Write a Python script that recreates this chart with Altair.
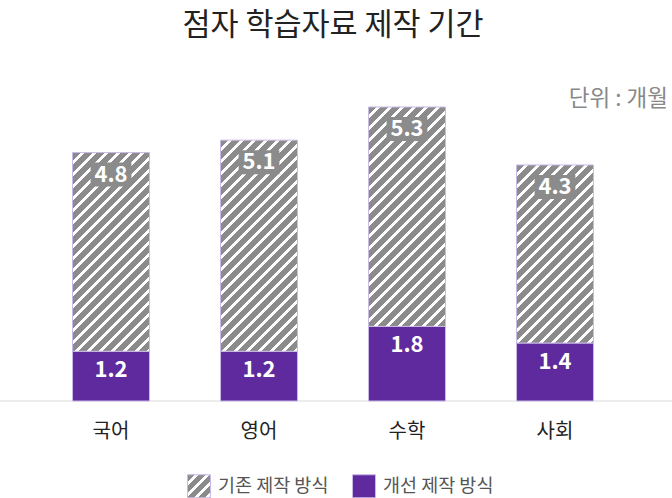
import altair as alt
import pandas as pd

# ---------------- data ----------------
subjects = ["국어", "영어", "수학", "사회"]
old_values = [4.8, 5.1, 5.3, 4.3]     # 기존 제작 방식 (hatched)
new_values = [1.2, 1.2, 1.8, 1.4]     # 개선 제작 방식 (purple)
methods = ["기존 제작 방식", "개선 제작 방식"]
title_text = "점자 학습자료 제작 기간"
unit_text = ["단위 : 개월"]

# ---------------- style ----------------
FONT = "Noto Sans CJK KR"
GREY = "#8b8b8b"
PURPLE = "#5f2a9e"
EDGE = "#c9b9e6"
W, H = 592, 294
PAD_INNER, PAD_OUTER = 0.48, 0.24
Y_MAX = max(o + n for o, n in zip(old_values, new_values))

step = W / (len(subjects) - PAD_INNER + 2 * PAD_OUTER)
bar_w = step * (1 - PAD_INNER)
px_per_unit = H / Y_MAX


def hatch_expr(w, h, period=12.0, white=0.33):
    """diagonal stripe fill built as a linear gradient (45 degrees in pixels)"""
    r = h / w
    s = (1 + r) / (1 + r * r)
    total = w + h
    stops = []
    j = 0
    while j * period / total < 1:
        a = j * period / total
        b = min((j + 1 - white) * period / total, 1)
        c = min((j + 1) * period / total, 1)
        stops += [(a, GREY), (b, GREY), (b, "#ffffff"), (c, "#ffffff")]
        j += 1
    st = ",".join("{offset:%.5f,color:'%s'}" % (o, col) for o, col in stops)
    return {"expr": "{gradient:'linear',x1:0,y1:0,x2:%.5f,y2:%.5f,stops:[%s]}" % (s, s * r, st)}


# long table for the stacked bars
rows = []
for s, o, n in zip(subjects, old_values, new_values):
    rows.append({"subject": s, "method": methods[1], "key": methods[1], "value": n, "ord": 0})
    rows.append({"subject": s, "method": methods[0], "key": s + "|기존", "value": o, "ord": 1})
long_df = pd.DataFrame(rows)
wide_df = pd.DataFrame({"subject": subjects, "old": old_values, "new": new_values})

color_domain = methods + [s + "|기존" for s in subjects]
color_range = [hatch_expr(23, 23, period=11.0), PURPLE] + [
    hatch_expr(bar_w, o * px_per_unit) for o in old_values
]

x_enc = alt.X(
    "subject:N",
    sort=subjects,
    scale=alt.Scale(paddingInner=PAD_INNER, paddingOuter=PAD_OUTER),
    axis=alt.Axis(
        title=None, domain=False, ticks=False, grid=False,
        labelFont=FONT, labelFontSize=20, labelColor="#222222",
        labelPadding=20, labelAngle=0,
    ),
)
y_scale = alt.Scale(domain=[0, Y_MAX], nice=False, zero=True)

baseline = alt.Chart(pd.DataFrame({"base": [0]})).mark_rule(
    color="#e6e6e6", strokeWidth=1.5
).encode(
    y=alt.Y("base:Q", scale=y_scale, axis=None),
    x=alt.value(-37),
    x2=alt.value(635),
)

bars = alt.Chart(long_df).mark_bar(stroke=EDGE, strokeWidth=1).encode(
    x=x_enc,
    y=alt.Y("value:Q", stack="zero", scale=y_scale, axis=None),
    order=alt.Order("ord:Q"),
    color=alt.Color(
        "key:N",
        scale=alt.Scale(domain=color_domain, range=color_range),
        legend=alt.Legend(
            values=methods, title=None, orient="none", legendX=150, legendY=367,
            direction="horizontal", symbolType="square", symbolSize=529,
            symbolStrokeColor=EDGE, symbolStrokeWidth=1,
            labelFont=FONT, labelFontSize=18.5, labelColor="#555555",
            labelOffset=7, columnPadding=21, padding=0,
        ),
    ),
)

base_w = alt.Chart(wide_df).transform_calculate(total="datum.old + datum.new")

old_box = base_w.mark_point(
    shape="M-1.7,-1L1.7,-1L1.7,1L-1.7,1Z", filled=True, color=GREY,
    opacity=1, size=576, yOffset=22, strokeWidth=0,
).encode(x=x_enc, y=alt.Y("total:Q", scale=y_scale, axis=None))

old_text = base_w.mark_text(
    font=FONT, fontSize=22, fontWeight="bold", color="white", dy=22, baseline="middle",
).encode(x=x_enc, y=alt.Y("total:Q", scale=y_scale, axis=None),
         text=alt.Text("old:Q", format=".1f"))

new_text = base_w.mark_text(
    font=FONT, fontSize=22, fontWeight="bold", color="white", dy=19, baseline="middle",
).encode(x=x_enc, y=alt.Y("new:Q", scale=y_scale, axis=None),
         text=alt.Text("new:Q", format=".1f"))

unit = alt.Chart(pd.DataFrame({"unit": unit_text})).mark_text(
    font=FONT, fontSize=22.5, color="#888888", align="right", baseline="middle",
).encode(x=alt.value(631), y=alt.value(-8), text="unit:N")

chart = alt.layer(baseline, bars, old_box, old_text, new_text, unit).properties(
    width=W,
    height=H,
    title=alt.TitleParams(
        title_text, font=FONT, fontSize=30.5, fontWeight="normal", color="#222222",
        anchor="middle", frame="group", offset=47,
    ),
    autosize=alt.AutoSizeParams(type="none"),
    padding={"left": 37, "top": 107, "right": 43, "bottom": 97},
    background="white",
).configure_view(stroke=None)

chart.save("out.html", embed_options={"renderer": "svg", "actions": False})
